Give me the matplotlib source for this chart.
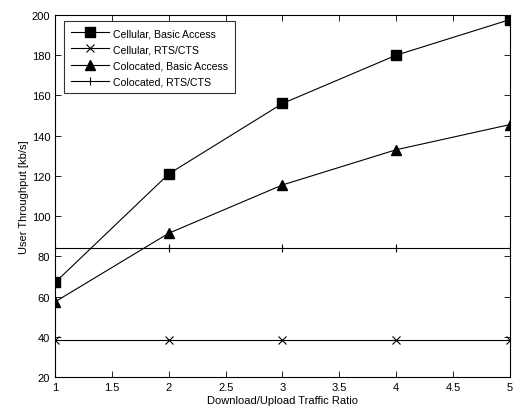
import matplotlib
matplotlib.use("Agg")
import matplotlib.pyplot as plt

plt.rcParams['font.family'] = ['Liberation Sans', 'DejaVu Sans']

x = [1, 2, 3, 4, 5]
cell_basic = [67, 121, 156, 180, 197.7]
cell_rts = [38.3, 38.3, 38.3, 38.3, 38.3]
coloc_basic = [57.4, 91.5, 115.5, 133, 145.5]
coloc_rts = [84.2, 84.2, 84.2, 84.2, 84.2]

fig = plt.figure(figsize=(5.15, 4.1), dpi=100)
ax = fig.add_axes([0.107, 0.078, 0.883, 0.883])

ax.plot(x, cell_basic, color='black', lw=0.8, marker='s', ms=6.5, label='Cellular, Basic Access')
ax.plot(x, cell_rts, color='black', lw=0.8, marker='x', ms=6, mew=0.8, label='Cellular, RTS/CTS')
ax.plot(x, coloc_basic, color='black', lw=0.8, marker='^', ms=7, label='Colocated, Basic Access')
ax.plot(x, coloc_rts, color='black', lw=0.8, marker='|', ms=6, mew=0.8, label='Colocated, RTS/CTS')

ax.set_xlim(1, 5)
ax.set_ylim(20, 200)
ax.set_xticks([1, 1.5, 2, 2.5, 3, 3.5, 4, 4.5, 5])
ax.set_xticklabels(['1', '1.5', '2', '2.5', '3', '3.5', '4', '4.5', '5'])
ax.set_yticks(range(20, 201, 20))
ax.tick_params(direction='in', top=True, right=True, labelsize=8, length=4, width=0.6)
for s in ax.spines.values():
    s.set_linewidth(0.8)
ax.set_xlabel('Download/Upload Traffic Ratio', fontsize=8, labelpad=2)
ax.set_ylabel('User Throughput [kb/s]', fontsize=8, labelpad=2)

leg = ax.legend(loc='upper left', fontsize=7.6, frameon=True, fancybox=False,
                edgecolor='black', handlelength=3.6, handletextpad=0.4,
                borderpad=0.65, borderaxespad=0,
                labelspacing=0.58, bbox_to_anchor=(0.0198, 0.983))
leg.get_frame().set_linewidth(0.8)

fig.savefig('out.png', dpi=100)
